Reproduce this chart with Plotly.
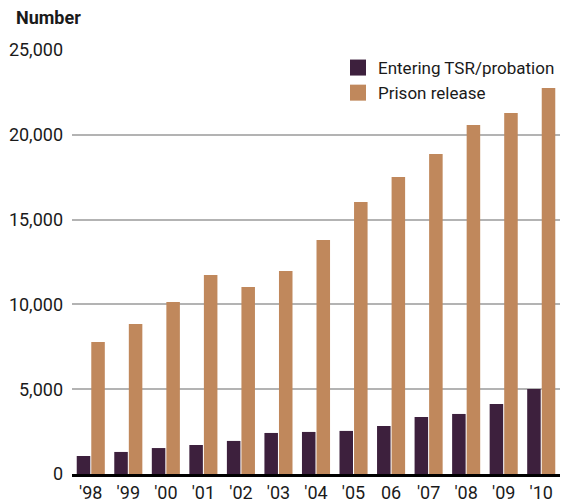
import plotly.graph_objects as go

# Yearly counts
years = ["'98", "'99", "'00", "'01", "'02", "'03", "'04", "'05", "06", "'07", "'08", "'09", "'10"]
entering_tsr = [1060, 1300, 1530, 1710, 1950, 2420, 2480, 2540, 2830, 3360, 3540, 4130, 5010]
prison_release = [7780, 8840, 10140, 11730, 11030, 11970, 13800, 16040, 17510, 18870, 20580, 21290, 22760]
series_names = ["Entering TSR/probation", "Prison release"]

FONT = "Roboto, Liberation Sans, sans-serif"
DARK = "#3d203d"
TAN = "#c0885c"

fig = go.Figure()
for name, vals, col in zip(series_names, [entering_tsr, prison_release], [DARK, TAN]):
    fig.add_trace(go.Bar(x=years, y=vals, name=name, legendgroup=name, showlegend=False,
                         marker=dict(color=col, line=dict(width=0))))
    # larger square swatch for the legend entry
    fig.add_trace(go.Scatter(x=[None], y=[None], mode="markers", name=name,
                             legendgroup=name, showlegend=True,
                             marker=dict(symbol="square", size=16, color=col)))

fig.update_layout(
    width=562, height=502,
    margin=dict(l=72, r=2, t=50, b=28),
    paper_bgcolor="white", plot_bgcolor="white",
    barmode="group", bargap=0.225, bargroupgap=0.07,
    font=dict(family=FONT, size=18, color="#1a1a1a"),
    showlegend=True,
    legend=dict(x=1.0, y=1.0, xanchor="right", yanchor="top",
                bgcolor="rgba(0,0,0,0)", font=dict(size=17),
                tracegroupgap=0, itemwidth=30),
    xaxis=dict(type="category", showgrid=False, ticks="", showline=True,
               linecolor="black", linewidth=3, automargin=False,
               tickfont=dict(size=18), range=[-0.5, 12.5]),
    yaxis=dict(range=[0, 25000], tickvals=[0, 5000, 10000, 15000, 20000, 25000],
               ticktext=["0", "5,000", "10,000", "15,000", "20,000", "25,000"],
               showgrid=True, gridcolor="#b3b3b3", gridwidth=1.5,
               zeroline=False, ticks="", showline=False, automargin=False,
               ticklabelstandoff=8, tickfont=dict(size=18)),
    annotations=[dict(text="<b>Number</b>", xref="paper", yref="paper",
                      x=-0.119, y=1.0, xanchor="left", yanchor="bottom",
                      yshift=20, showarrow=False, font=dict(size=18, color="#1a1a1a"))],
)

fig.write_html("out.html")
